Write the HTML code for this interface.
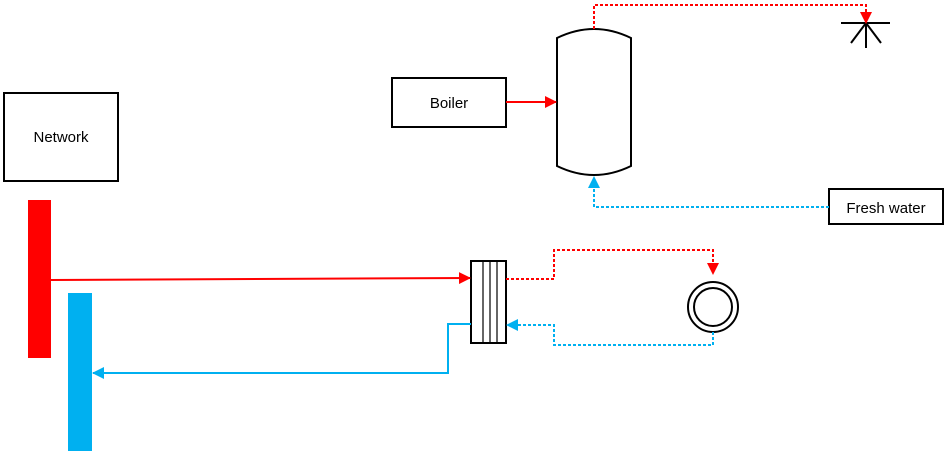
<!DOCTYPE html>
<html><head><style>body{margin:0;background:#fff}svg{display:block}text{font-family:"Liberation Sans",sans-serif;font-size:15px;fill:#000}</style></head><body>
<svg width="952" height="455" viewBox="0 0 952 455" xmlns="http://www.w3.org/2000/svg">
<defs>
<marker id="r" markerWidth="12" markerHeight="12" refX="11" refY="6" orient="auto" markerUnits="userSpaceOnUse"><path d="M0,0L12,6L0,12z" fill="#f00"/></marker>
<marker id="b" markerWidth="12" markerHeight="12" refX="11" refY="6" orient="auto" markerUnits="userSpaceOnUse"><path d="M0,0L12,6L0,12z" fill="#00b0f0"/></marker>
</defs>
<g fill="none" stroke="#000" stroke-width="2">
<rect x="4" y="93" width="114" height="88"/>
<rect x="392" y="78" width="114" height="49"/>
<rect x="829" y="189" width="114" height="35"/>
<path d="M557,38 Q594,20 631,38 L631,166 Q594,184 557,166 Z"/>
<rect x="471" y="261" width="35" height="82"/>
<path d="M483,261V343M490,261V343M497,261V343" stroke-width="1.2"/>
<circle cx="713" cy="307" r="25"/><circle cx="713" cy="307" r="19"/>
<path d="M841,23H890M866,23V48M866,23L851,43M866,23L881,43"/>
</g>
<rect x="28" y="200" width="23" height="158" fill="#f00"/>
<rect x="68" y="293" width="24" height="158" fill="#00b0f0"/>
<g fill="none" stroke-width="2">
<path d="M506,102H556" stroke="#f00" marker-end="url(#r)"/>
<path d="M51,280L470,278" stroke="#f00" marker-end="url(#r)"/>
<path d="M594,29V5H866V23" stroke="#f00" stroke-dasharray="3,2" marker-end="url(#r)"/>
<path d="M506,279H554V250H713V274" stroke="#f00" stroke-dasharray="3,2" marker-end="url(#r)"/>
<path d="M829,207H594V177" stroke="#00b0f0" stroke-dasharray="3,2" marker-end="url(#b)"/>
<path d="M713,332V345H554V325H507" stroke="#00b0f0" stroke-dasharray="3,2" marker-end="url(#b)"/>
<path d="M471,324H448V373H93" stroke="#00b0f0" marker-end="url(#b)"/>
</g>
<text x="61" y="142" text-anchor="middle">Network</text>
<text x="449" y="108" text-anchor="middle">Boiler</text>
<text x="886" y="213" text-anchor="middle">Fresh water</text>
</svg>
</body></html>
